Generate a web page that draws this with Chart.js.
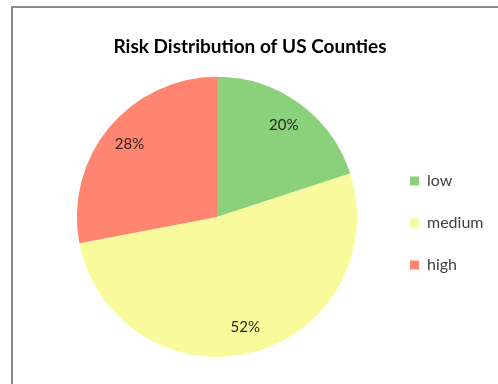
<!DOCTYPE html>
<html>
<head>
<meta charset="utf-8">
<script src="https://cdn.jsdelivr.net/npm/chart.js@4.4.1/dist/chart.umd.min.js"></script>
<style>
  html, body { margin: 0; padding: 0; background: #ffffff; }
  #wrap { position: relative; width: 498px; height: 384px; overflow: hidden; }
  #frame { position: absolute; left: 11px; top: 6px; width: 600px; height: 500px;
           border-left: 2px solid #8c8c8c; border-top: 2px solid #8c8c8c; }
  #chart_risk { position: absolute; left: 0; top: 0; }
</style>
</head>
<body>
<div id="wrap">
  <div id="frame"></div>
  <canvas id="chart_risk" width="498" height="384"></canvas>
</div>

<script>
const riskLevels = ['low', 'medium', 'high'];
const countyShare = [20, 52, 28];
const riskColors = ['#8bd17b', '#f9fa9b', '#ff8570'];

const LEGEND_W = 66;

// legend reserves a fixed width in the layout, then gets room for its text
const legendBox = {
  id: 'legendBox',
  beforeLayout(chart) {
    const lg = chart.legend;
    if (lg && !lg._fixed) {
      const fit = lg.fit;
      lg.fit = function () { fit.call(this); this.width = LEGEND_W; };
      lg._fixed = true;
    }
  },
  afterLayout(chart) {
    const lg = chart.legend;
    lg.right += 60;
    lg.width += 60;
    lg.top += 41;
    lg.bottom += 41;
  }
};

// percent labels inside each slice
const sliceLabels = {
  id: 'sliceLabels',
  afterDatasetsDraw(chart) {
    const ctx = chart.ctx;
    const meta = chart.getDatasetMeta(0);
    const values = chart.data.datasets[0].data;
    const total = values.reduce((a, b) => a + b, 0);
    ctx.save();
    ctx.font = '15px Lato, "Open Sans", sans-serif';
    ctx.fillStyle = '#262626';
    ctx.textAlign = 'center';
    ctx.textBaseline = 'middle';
    meta.data.forEach((arc, i) => {
      const p = arc.getProps(['x', 'y', 'startAngle', 'endAngle', 'outerRadius'], true);
      const mid = (p.startAngle + p.endAngle) / 2;
      const r = p.outerRadius * 0.81;
      const pct = Math.round(values[i] / total * 100) + '%';
      ctx.fillText(pct, p.x + Math.cos(mid) * r, p.y + Math.sin(mid) * r);
    });
    ctx.restore();
  }
};

const configRisk = {
  type: 'pie',
  data: {
    labels: riskLevels,
    datasets: [{
      data: countyShare,
      backgroundColor: riskColors,
      borderWidth: 0
    }]
  },
  options: {
    responsive: false,
    animation: false,
    layout: { padding: { left: 50, right: 48, top: 7, bottom: 27 } },
    plugins: {
      title: {
        display: true,
        text: 'Risk Distribution of US Counties',
        color: '#000000',
        font: { family: 'Lato, "Open Sans", sans-serif', size: 19, weight: 'bold' },
        padding: { top: 28, bottom: 19 }
      },
      legend: {
        position: 'right',
        labels: {
          color: '#404040',
          font: { family: 'Lato, "Open Sans", sans-serif', size: 16 },
          boxWidth: 9,
          boxHeight: 9,
          padding: 26
        }
      },
      tooltip: { enabled: false }
    }
  },
  plugins: [legendBox, sliceLabels]
};

const chartRisk = new Chart(document.getElementById('chart_risk'), configRisk);
</script>
</body>
</html>
